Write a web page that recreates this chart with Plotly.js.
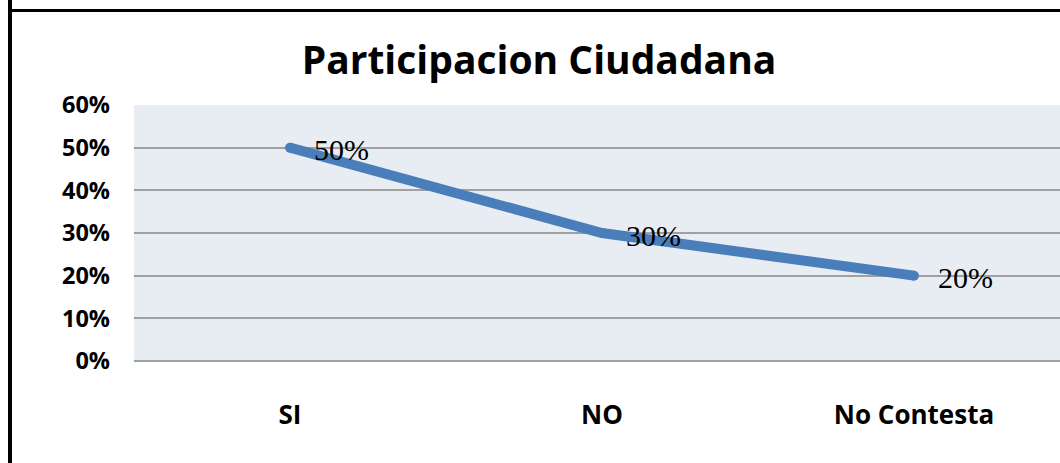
<!DOCTYPE html>
<html>
<head>
<meta charset="utf-8">
<script src="https://cdn.plot.ly/plotly-3.0.1.min.js"></script>
<style>
html,body{margin:0;padding:0;background:#fff;overflow:hidden;}
#chart{width:1060px;height:463px;}
</style>
</head>
<body>
<div id="chart"></div>
<script>
const categories = ["SI", "NO", "No Contesta"];
const values = [50, 30, 20];
const valueLabels = ["50%", "30%", "20%"];
const yTickVals = [0, 10, 20, 30, 40, 50, 60];
const yTickText = ["0%", "10%", "20%", "30%", "40%", "50%", "60%"];
const chartTitle = "Participacion Ciudadana";

const trace = {
  x: categories,
  y: values,
  type: "scatter",
  mode: "lines+markers",
  line: {color: "#4a7ebb", width: 10},
  marker: {color: "#4a7ebb", size: 10},
  hoverinfo: "none"
};

const annotations = categories.map((c, i) => ({
  x: c, y: values[i], xref: "x", yref: "y",
  text: valueLabels[i], showarrow: false,
  xanchor: "left", yanchor: "middle", xshift: 22, yshift: -2,
  font: {family: "Liberation Serif", size: 30, color: "#000000"}
}));

const layout = {
  width: 1060, height: 463,
  margin: {l: 134, r: 0, t: 105, b: 102, pad: 0},
  paper_bgcolor: "#ffffff",
  plot_bgcolor: "#e8edf4",
  showlegend: false,
  title: {
    text: chartTitle,
    font: {family: "Open Sans", size: 39, color: "#000", weight: "bold"},
    x: 539 / 1060, xref: "container", xanchor: "center",
    y: 1 - 60 / 463, yref: "container", yanchor: "middle"
  },
  xaxis: {
    type: "category",
    range: [-0.5, 2.468],
    showgrid: false, zeroline: false, showline: false,
    ticks: "", ticklabelstandoff: 36,
    tickfont: {family: "Open Sans", size: 26, color: "#000", weight: "bold"},
    fixedrange: true
  },
  yaxis: {
    range: [0, 60],
    tickvals: yTickVals, ticktext: yTickText,
    showgrid: true, gridcolor: "#a0a0a0", gridwidth: 2,
    zeroline: true, zerolinecolor: "#a0a0a0", zerolinewidth: 2,
    showline: false, ticks: "", ticklabelstandoff: 23,
    tickfont: {family: "Open Sans", size: 23.5, color: "#000", weight: "bold"},
    fixedrange: true
  },
  annotations: annotations,
  shapes: [
    {type: "line", xref: "paper", yref: "paper", layer: "above",
     x0: (10 - 134) / 926, x1: (10 - 134) / 926, y0: (463 - 11) / 256, y1: -1,
     line: {color: "#000", width: 4}},
    {type: "line", xref: "paper", yref: "paper", layer: "above",
     x0: (8 - 134) / 926, x1: 1.1, y0: (361 - 10.5) / 256, y1: (361 - 10.5) / 256,
     line: {color: "#000", width: 3}}
  ]
};

Plotly.newPlot("chart", [trace], layout, {displayModeBar: false, staticPlot: true});
</script>
</body>
</html>
